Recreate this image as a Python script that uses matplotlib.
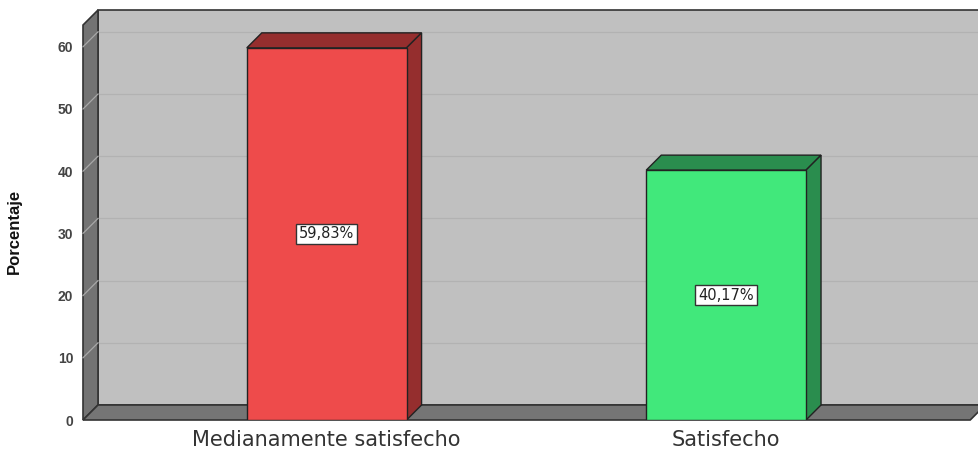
#!/usr/bin/env python3
"""
plot.py

Pseudo-3D bar chart of satisfaction level (percentage per category).
"""

import matplotlib.pyplot as plt
from matplotlib.patches import Polygon, Rectangle

categories = ["Medianamente satisfecho", "Satisfecho"]
percentages = [59.83, 40.17]
value_labels = ["59,83%", "40,17%"]
y_ticks = [0, 10, 20, 30, 40, 50, 60]

front_colors = ["#ee4b4b", "#41e87b"]
shade_colors = ["#952e2e", "#2a8d4e"]

W, H, DPI = 979, 455, 100
DEPTH_PX = 15        # 3d offset of the back plane, in pixels
BAR_WIDTH = 0.4
WALL_TOP = 63.5


def main():
    plt.rcParams["font.family"] = ["Liberation Sans", "DejaVu Sans"]
    fig = plt.figure(figsize=(W / DPI, H / DPI), dpi=DPI)
    ax_w, ax_h = W - 83, 420
    ax = fig.add_axes([83 / W, (H - 420) / H, ax_w / W, ax_h / H])

    xmin, xmax = -0.61, 1.633
    ymin, ymax = 0, 420 / 6.22
    ax.set_xlim(xmin, xmax)
    ax.set_ylim(ymin, ymax)

    # depth offset converted to data units
    dx = DEPTH_PX * (xmax - xmin) / ax_w
    dy = DEPTH_PX * (ymax - ymin) / ax_h

    x_left, x_right = xmin, 1.611

    # back wall
    ax.add_patch(Rectangle((x_left + dx, dy), xmax + 1 - x_left, WALL_TOP,
                           facecolor="#c0c0c0", edgecolor="#333333", lw=1.2,
                           zorder=1, clip_on=False))
    # left wall
    ax.add_patch(Polygon([(x_left, 0), (x_left, WALL_TOP), (x_left + dx, WALL_TOP + dy),
                          (x_left + dx, dy)], closed=True, facecolor="#737373",
                         edgecolor="#333333", lw=1.2, zorder=2, clip_on=False))
    # grid lines on back wall and left wall
    for v in y_ticks[1:]:
        ax.plot([x_left + dx, xmax], [v + dy, v + dy], color="#b2b2b2", lw=0.9, zorder=1.5)
        ax.plot([x_left, x_left + dx], [v, v + dy], color="#a8a8a8", lw=0.9, zorder=2.5,
                clip_on=False)
    # floor
    ax.add_patch(Polygon([(x_left, 0), (x_right, 0), (x_right + dx, dy), (x_left + dx, dy)],
                         closed=True, facecolor="#757575", edgecolor="#333333", lw=1.2,
                         zorder=3, clip_on=False))

    # bars
    for i, (val, fc, sc, lab) in enumerate(zip(percentages, front_colors, shade_colors,
                                                 value_labels)):
        x0, x1 = i - BAR_WIDTH / 2, i + BAR_WIDTH / 2
        ax.add_patch(Polygon([(x0, val), (x1, val), (x1 + dx, val + dy), (x0 + dx, val + dy)],
                             closed=True, facecolor=sc, edgecolor="#222222", lw=1, zorder=4))
        ax.add_patch(Polygon([(x1, 0), (x1, val), (x1 + dx, val + dy), (x1 + dx, dy)],
                             closed=True, facecolor=sc, edgecolor="#222222", lw=1, zorder=4))
        ax.bar(i, val, width=BAR_WIDTH, color=fc, edgecolor="#222222", lw=1, zorder=5)
        ax.text(i, val / 2, lab, ha="center", va="center", fontsize=10.5, color="#222222",
                family="DejaVu Sans", zorder=6,
                bbox=dict(boxstyle="square,pad=0.2", facecolor="white",
                          edgecolor="#333333", lw=1))

    for s in ax.spines.values():
        s.set_visible(False)
    ax.set_xticks(range(len(categories)))
    ax.set_xticklabels(categories, fontsize=15, color="#333333", family="DejaVu Sans")
    ax.set_yticks(y_ticks)
    ax.set_yticklabels([str(t) for t in y_ticks], fontsize=10, color="#444444",
                       fontweight="bold")
    ax.tick_params(axis="x", length=0, pad=7)
    ax.tick_params(axis="y", length=0, pad=7)
    ax.set_ylabel("Porcentaje", fontsize=12, fontweight="bold", color="#111111")
    ax.yaxis.set_label_coords(-0.068, 0.448)

    fig.savefig("out.png", dpi=DPI)
    plt.close(fig)


if __name__ == "__main__":
    main()
